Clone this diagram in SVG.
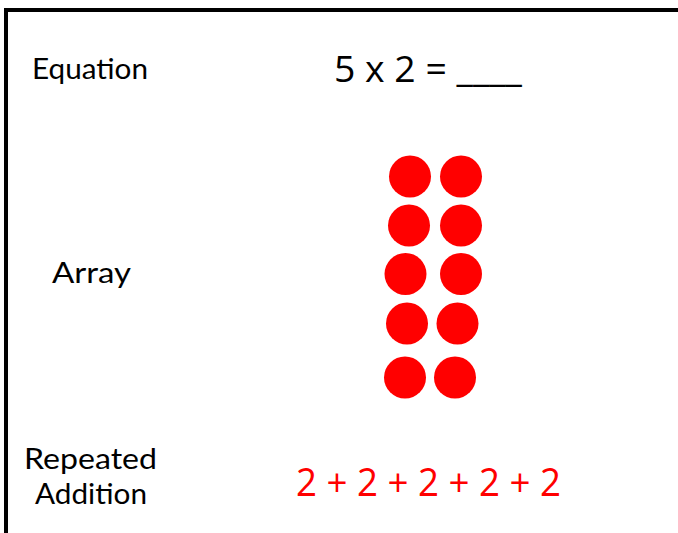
<svg xmlns="http://www.w3.org/2000/svg" width="678" height="533" viewBox="0 0 678 533">
<style>
.lbl{font-family:"Century Gothic","Lato","DejaVu Sans",sans-serif;fill:#000;}
.dot{fill:#ff0000;}
.eq{font-family:"Open Sans","DejaVu Sans",sans-serif;}
</style>
<rect x="0" y="0" width="678" height="533" fill="#fff"/>
<path d="M6,540 V10 H690" fill="none" stroke="#000" stroke-width="4"/>
<g id="label-equation"><text class="lbl" x="32" y="79" font-size="28" textLength="116" lengthAdjust="spacingAndGlyphs">Equation</text></g>
<g id="equation"><text class="eq" x="334" y="82" font-size="36" textLength="188" lengthAdjust="spacingAndGlyphs" fill="#000">5 x 2 = ____</text></g>
<g id="label-array"><text class="lbl" x="52" y="283" font-size="28" textLength="79" lengthAdjust="spacingAndGlyphs">Array</text></g>
<g id="array">
<circle class="dot" cx="410" cy="176.5" r="21"/>
<circle class="dot" cx="461" cy="176.5" r="21"/>
<circle class="dot" cx="409" cy="225.5" r="21"/>
<circle class="dot" cx="461" cy="225.5" r="21"/>
<circle class="dot" cx="405.5" cy="274" r="21"/>
<circle class="dot" cx="461" cy="274" r="21"/>
<circle class="dot" cx="407" cy="323.5" r="21"/>
<circle class="dot" cx="457.5" cy="323.5" r="21"/>
<circle class="dot" cx="405" cy="377.5" r="21"/>
<circle class="dot" cx="455" cy="377.5" r="21"/>
</g>
<g id="label-repeated"><text class="lbl" x="24" y="469" font-size="28" textLength="133" lengthAdjust="spacingAndGlyphs">Repeated</text>
<text class="lbl" x="35" y="504" font-size="28" textLength="112" lengthAdjust="spacingAndGlyphs">Addition</text></g>
<g id="repeated-addition"><text class="eq" x="296" y="496" font-size="39" fill="#ff0000" textLength="265" lengthAdjust="spacingAndGlyphs">2 + 2 + 2 + 2 + 2</text></g>
</svg>
